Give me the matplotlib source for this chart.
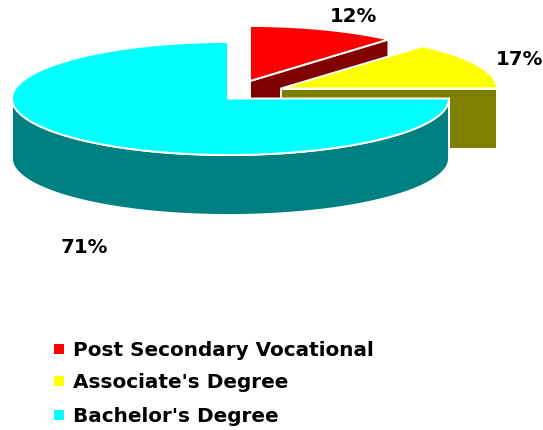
import numpy as np
import matplotlib
matplotlib.use("Agg")
import matplotlib.pyplot as plt
from matplotlib.patches import Polygon

categories = ["Post Secondary Vocational", "Associate's Degree", "Bachelor's Degree"]
percents = [12, 17, 71]
# angular extent of each slice as drawn (degrees clockwise from north)
sweeps_deg = [41, 49, 270]
top_colors = ["#FF0000", "#FFFF00", "#00FFFF"]
side_colors = ["#800000", "#808000", "#008080"]

W, H = 543, 431
fig = plt.figure(figsize=(W / 100, H / 100), dpi=100)
ax = fig.add_axes([0, 0, 1, 1])
ax.set_xlim(0, W)
ax.set_ylim(H, 0)
ax.axis("off")

# layout of each exploded slice: apex and radii (right, left, vertical)
apex = [(250, 82), (281, 89.5), (228, 99.5)]
radii = [(211, 211, 55), (216, 216, 56), (221, 216, 56.5)]
DEPTH = 60
starts = np.concatenate([[0], np.cumsum(sweeps_deg)[:-1]])


def rim(i, a0, a1):
    t = np.radians(np.linspace(a0, a1, 160))
    cx, cy = apex[i]
    rr, rl, ry = radii[i]
    s = np.sin(t)
    return np.column_stack([cx + np.where(s > 0, rr, rl) * s, cy - ry * np.cos(t)])


WHITE = dict(edgecolor="white", linewidth=1.4, joinstyle="round")
for i in range(3):
    a0, a1 = starts[i], starts[i] + sweeps_deg[i]
    ax_pt = np.array(apex[i])
    down = np.array([0, DEPTH])
    z = 2 + i * 3
    if i < 2:
        # cut face running along the slice's clockwise edge
        e = rim(i, a1, a1)[0]
        face = [ax_pt, e, e + down, ax_pt + down]
        ax.add_patch(Polygon(face, facecolor=side_colors[i], zorder=z, **WHITE))
    else:
        arc = rim(i, 90, 270)
        wall = np.vstack([arc, (arc + down)[::-1]])
        ax.add_patch(Polygon(wall, facecolor=side_colors[i], zorder=z, **WHITE))
    top = np.vstack([[ax_pt], rim(i, a0, a1)])
    ax.add_patch(Polygon(top, facecolor=top_colors[i], zorder=z + 1, **WHITE))

FONT = dict(family="DejaVu Sans", fontweight="bold", color="black")
pct_pos = [(353.5, 22), (519.5, 65), (84, 253)]
for p, (x, y) in zip(percents, pct_pos):
    ax.text(x, y, f"{p}%", ha="center", va="baseline", fontsize=14.2, zorder=20, **FONT)

leg_y = [356.5, 388.5, 422.5]
for name, col, y in zip(categories, top_colors, leg_y):
    ax.scatter([58.5], [y - 6.5], marker="s", s=42, color=col, linewidths=0, zorder=20)
    ax.text(73, y, name, ha="left", va="baseline", fontsize=14.4, zorder=20, **FONT)

fig.savefig("out.png", dpi=100)
